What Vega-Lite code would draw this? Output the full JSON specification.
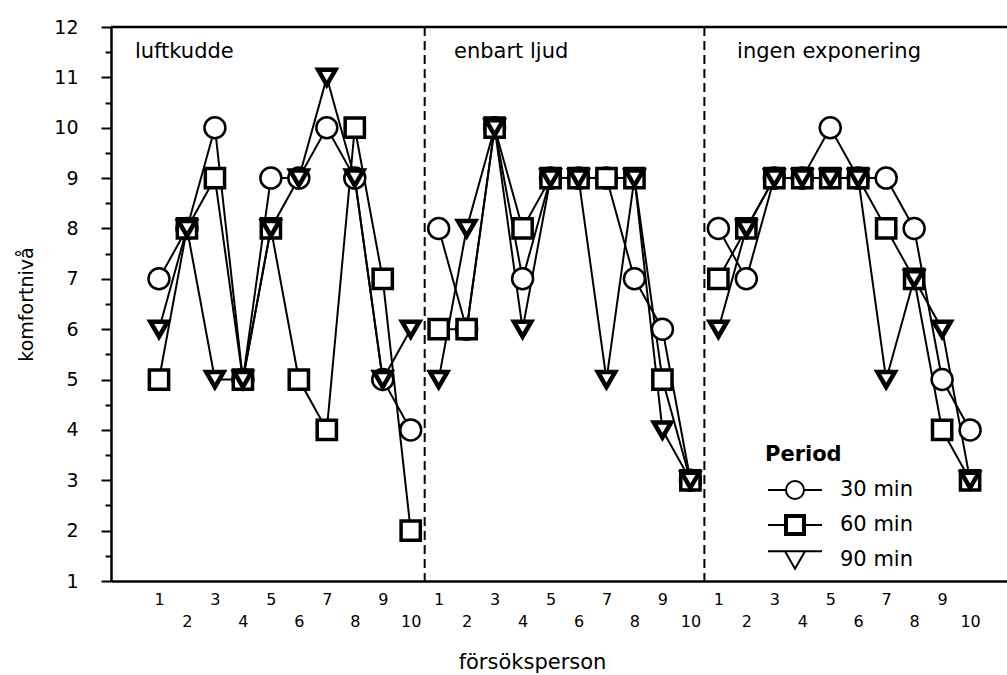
{
  "$schema": "https://vega.github.io/schema/vega-lite/v6.json",
  "autosize": "none",
  "padding": {"left": 111, "top": 27, "right": 0, "bottom": 94},
  "width": 896,
  "height": 554,
  "background": "white",
  "config": {
    "view": {"stroke": null},
    "font": "DejaVu Sans",
    "axis": {"labelFont": "DejaVu Sans", "titleFont": "DejaVu Sans", "labelColor": "black", "titleColor": "black", "domainColor": "black", "tickColor": "black", "grid": false, "titleFontWeight": "normal"}
  },
  "datasets": {
    "komfort": [
      {"pos": 1, "group": "luftkudde", "period": "30 min", "value": 7},
      {"pos": 2, "group": "luftkudde", "period": "30 min", "value": 8},
      {"pos": 3, "group": "luftkudde", "period": "30 min", "value": 10},
      {"pos": 4, "group": "luftkudde", "period": "30 min", "value": 5},
      {"pos": 5, "group": "luftkudde", "period": "30 min", "value": 9},
      {"pos": 6, "group": "luftkudde", "period": "30 min", "value": 9},
      {"pos": 7, "group": "luftkudde", "period": "30 min", "value": 10},
      {"pos": 8, "group": "luftkudde", "period": "30 min", "value": 9},
      {"pos": 9, "group": "luftkudde", "period": "30 min", "value": 5},
      {"pos": 10, "group": "luftkudde", "period": "30 min", "value": 4},
      {"pos": 11, "group": "enbart ljud", "period": "30 min", "value": 8},
      {"pos": 12, "group": "enbart ljud", "period": "30 min", "value": 6},
      {"pos": 13, "group": "enbart ljud", "period": "30 min", "value": 10},
      {"pos": 14, "group": "enbart ljud", "period": "30 min", "value": 7},
      {"pos": 15, "group": "enbart ljud", "period": "30 min", "value": 9},
      {"pos": 16, "group": "enbart ljud", "period": "30 min", "value": 9},
      {"pos": 17, "group": "enbart ljud", "period": "30 min", "value": 9},
      {"pos": 18, "group": "enbart ljud", "period": "30 min", "value": 7},
      {"pos": 19, "group": "enbart ljud", "period": "30 min", "value": 6},
      {"pos": 20, "group": "enbart ljud", "period": "30 min", "value": 3},
      {"pos": 21, "group": "ingen exponering", "period": "30 min", "value": 8},
      {"pos": 22, "group": "ingen exponering", "period": "30 min", "value": 7},
      {"pos": 23, "group": "ingen exponering", "period": "30 min", "value": 9},
      {"pos": 24, "group": "ingen exponering", "period": "30 min", "value": 9},
      {"pos": 25, "group": "ingen exponering", "period": "30 min", "value": 10},
      {"pos": 26, "group": "ingen exponering", "period": "30 min", "value": 9},
      {"pos": 27, "group": "ingen exponering", "period": "30 min", "value": 9},
      {"pos": 28, "group": "ingen exponering", "period": "30 min", "value": 8},
      {"pos": 29, "group": "ingen exponering", "period": "30 min", "value": 5},
      {"pos": 30, "group": "ingen exponering", "period": "30 min", "value": 4},
      {"pos": 1, "group": "luftkudde", "period": "60 min", "value": 5},
      {"pos": 2, "group": "luftkudde", "period": "60 min", "value": 8},
      {"pos": 3, "group": "luftkudde", "period": "60 min", "value": 9},
      {"pos": 4, "group": "luftkudde", "period": "60 min", "value": 5},
      {"pos": 5, "group": "luftkudde", "period": "60 min", "value": 8},
      {"pos": 6, "group": "luftkudde", "period": "60 min", "value": 5},
      {"pos": 7, "group": "luftkudde", "period": "60 min", "value": 4},
      {"pos": 8, "group": "luftkudde", "period": "60 min", "value": 10},
      {"pos": 9, "group": "luftkudde", "period": "60 min", "value": 7},
      {"pos": 10, "group": "luftkudde", "period": "60 min", "value": 2},
      {"pos": 11, "group": "enbart ljud", "period": "60 min", "value": 6},
      {"pos": 12, "group": "enbart ljud", "period": "60 min", "value": 6},
      {"pos": 13, "group": "enbart ljud", "period": "60 min", "value": 10},
      {"pos": 14, "group": "enbart ljud", "period": "60 min", "value": 8},
      {"pos": 15, "group": "enbart ljud", "period": "60 min", "value": 9},
      {"pos": 16, "group": "enbart ljud", "period": "60 min", "value": 9},
      {"pos": 17, "group": "enbart ljud", "period": "60 min", "value": 9},
      {"pos": 18, "group": "enbart ljud", "period": "60 min", "value": 9},
      {"pos": 19, "group": "enbart ljud", "period": "60 min", "value": 5},
      {"pos": 20, "group": "enbart ljud", "period": "60 min", "value": 3},
      {"pos": 21, "group": "ingen exponering", "period": "60 min", "value": 7},
      {"pos": 22, "group": "ingen exponering", "period": "60 min", "value": 8},
      {"pos": 23, "group": "ingen exponering", "period": "60 min", "value": 9},
      {"pos": 24, "group": "ingen exponering", "period": "60 min", "value": 9},
      {"pos": 25, "group": "ingen exponering", "period": "60 min", "value": 9},
      {"pos": 26, "group": "ingen exponering", "period": "60 min", "value": 9},
      {"pos": 27, "group": "ingen exponering", "period": "60 min", "value": 8},
      {"pos": 28, "group": "ingen exponering", "period": "60 min", "value": 7},
      {"pos": 29, "group": "ingen exponering", "period": "60 min", "value": 4},
      {"pos": 30, "group": "ingen exponering", "period": "60 min", "value": 3},
      {"pos": 1, "group": "luftkudde", "period": "90 min", "value": 6},
      {"pos": 2, "group": "luftkudde", "period": "90 min", "value": 8},
      {"pos": 3, "group": "luftkudde", "period": "90 min", "value": 5},
      {"pos": 4, "group": "luftkudde", "period": "90 min", "value": 5},
      {"pos": 5, "group": "luftkudde", "period": "90 min", "value": 8},
      {"pos": 6, "group": "luftkudde", "period": "90 min", "value": 9},
      {"pos": 7, "group": "luftkudde", "period": "90 min", "value": 11},
      {"pos": 8, "group": "luftkudde", "period": "90 min", "value": 9},
      {"pos": 9, "group": "luftkudde", "period": "90 min", "value": 5},
      {"pos": 10, "group": "luftkudde", "period": "90 min", "value": 6},
      {"pos": 11, "group": "enbart ljud", "period": "90 min", "value": 5},
      {"pos": 12, "group": "enbart ljud", "period": "90 min", "value": 8},
      {"pos": 13, "group": "enbart ljud", "period": "90 min", "value": 10},
      {"pos": 14, "group": "enbart ljud", "period": "90 min", "value": 6},
      {"pos": 15, "group": "enbart ljud", "period": "90 min", "value": 9},
      {"pos": 16, "group": "enbart ljud", "period": "90 min", "value": 9},
      {"pos": 17, "group": "enbart ljud", "period": "90 min", "value": 5},
      {"pos": 18, "group": "enbart ljud", "period": "90 min", "value": 9},
      {"pos": 19, "group": "enbart ljud", "period": "90 min", "value": 4},
      {"pos": 20, "group": "enbart ljud", "period": "90 min", "value": 3},
      {"pos": 21, "group": "ingen exponering", "period": "90 min", "value": 6},
      {"pos": 22, "group": "ingen exponering", "period": "90 min", "value": 8},
      {"pos": 23, "group": "ingen exponering", "period": "90 min", "value": 9},
      {"pos": 24, "group": "ingen exponering", "period": "90 min", "value": 9},
      {"pos": 25, "group": "ingen exponering", "period": "90 min", "value": 9},
      {"pos": 26, "group": "ingen exponering", "period": "90 min", "value": 9},
      {"pos": 27, "group": "ingen exponering", "period": "90 min", "value": 5},
      {"pos": 28, "group": "ingen exponering", "period": "90 min", "value": 7},
      {"pos": 29, "group": "ingen exponering", "period": "90 min", "value": 6},
      {"pos": 30, "group": "ingen exponering", "period": "90 min", "value": 3}
    ]
  },
  "resolve": {
    "scale": {"shape": "independent", "size": "independent", "strokeWidth": "independent"}
  },
  "layer": [
    {
      "data": {"values": [{"pos": -0.716, "value": 12}, {"pos": 31.32, "value": 12}]},
      "mark": {"type": "line", "color": "black", "strokeWidth": 2.5},
      "encoding": {
        "x": {
          "field": "pos", "type": "quantitative",
          "axis": {
            "title": "försöksperson",
            "values": [1,2,3,4,5,6,7,8,9,10,11,12,13,14,15,16,17,18,19,20,21,22,23,24,25,26,27,28,29,30],
            "labelExpr": "((datum.value - 1) % 10) % 2 == 0 ? '' + (((datum.value - 1) % 10) + 1) : ['', '' + (((datum.value - 1) % 10) + 1)]",
            "ticks": false, "domainWidth": 2.5, "labelFontSize": 16, "labelLineHeight": 22, "labelPadding": 10,
            "labelOverlap": false, "labelFlush": false, "labelBound": false,
            "titleFontSize": 21, "titlePadding": 22, "titleX": 421, "titleAlign": "center"
          }
        },
        "y": {
          "field": "value", "type": "quantitative",
          "axis": {
            "orient": "left", "title": "komfortnivå",
            "values": [1,1.5,2,2.5,3,3.5,4,4.5,5,5.5,6,6.5,7,7.5,8,8.5,9,9.5,10,10.5,11,11.5,12],
            "labelExpr": "datum.value % 1 == 0 ? format(datum.value, 'd') : ''",
            "tickSize": {"condition": {"test": "datum.value % 1 == 0", "value": 10}, "value": 6},
            "tickWidth": 2, "domainWidth": 2.5, "labelFontSize": 19, "labelPadding": 23,
            "labelOverlap": false, "labelFlush": false, "labelBound": false,
            "titleFontSize": 19, "titlePadding": 17
          }
        }
      }
    },
    {
      "data": {"values": [{"pos": 10.5}, {"pos": 20.5}]},
      "mark": {"type": "rule", "color": "black", "strokeWidth": 2, "strokeDash": [9, 5]},
      "encoding": {
        "x": {
          "field": "pos", "type": "quantitative",
          "axis": {
            "title": "försöksperson",
            "values": [1,2,3,4,5,6,7,8,9,10,11,12,13,14,15,16,17,18,19,20,21,22,23,24,25,26,27,28,29,30],
            "labelExpr": "((datum.value - 1) % 10) % 2 == 0 ? '' + (((datum.value - 1) % 10) + 1) : ['', '' + (((datum.value - 1) % 10) + 1)]",
            "ticks": false, "domainWidth": 2.5, "labelFontSize": 16, "labelLineHeight": 22, "labelPadding": 10,
            "labelOverlap": false, "labelFlush": false, "labelBound": false,
            "titleFontSize": 21, "titlePadding": 22, "titleX": 421, "titleAlign": "center"
          }
        }
      }
    },
    {
      "data": {"name": "komfort"},
      "mark": {"type": "line", "color": "black", "strokeWidth": 2},
      "encoding": {
        "x": {
          "field": "pos", "type": "quantitative",
          "scale": {"domain": [-0.716, 31.32], "nice": false, "zero": false},
          "axis": {
            "title": "försöksperson",
            "values": [1,2,3,4,5,6,7,8,9,10,11,12,13,14,15,16,17,18,19,20,21,22,23,24,25,26,27,28,29,30],
            "labelExpr": "((datum.value - 1) % 10) % 2 == 0 ? '' + (((datum.value - 1) % 10) + 1) : ['', '' + (((datum.value - 1) % 10) + 1)]",
            "ticks": false, "domainWidth": 2.5, "labelFontSize": 16, "labelLineHeight": 22, "labelPadding": 10,
            "labelOverlap": false, "labelFlush": false, "labelBound": false,
            "titleFontSize": 21, "titlePadding": 22, "titleX": 421, "titleAlign": "center"
          }
        },
        "y": {
          "field": "value", "type": "quantitative",
          "scale": {"domain": [1, 12], "nice": false, "zero": false},
          "axis": {
            "orient": "left", "title": "komfortnivå",
            "values": [1,1.5,2,2.5,3,3.5,4,4.5,5,5.5,6,6.5,7,7.5,8,8.5,9,9.5,10,10.5,11,11.5,12],
            "labelExpr": "datum.value % 1 == 0 ? format(datum.value, 'd') : ''",
            "tickSize": {"condition": {"test": "datum.value % 1 == 0", "value": 10}, "value": 6},
            "tickWidth": 2, "domainWidth": 2.5, "labelFontSize": 19, "labelPadding": 23,
            "labelOverlap": false, "labelFlush": false, "labelBound": false,
            "titleFontSize": 19, "titlePadding": 17
          }
        },
        "detail": [{"field": "period"}, {"field": "group"}]
      }
    },
    {
      "data": {"name": "komfort"},
      "mark": {"type": "point", "filled": true, "fill": "white", "stroke": "black", "opacity": 1},
      "encoding": {
        "x": {
          "field": "pos", "type": "quantitative",
          "axis": {
            "title": "försöksperson",
            "values": [1,2,3,4,5,6,7,8,9,10,11,12,13,14,15,16,17,18,19,20,21,22,23,24,25,26,27,28,29,30],
            "labelExpr": "((datum.value - 1) % 10) % 2 == 0 ? '' + (((datum.value - 1) % 10) + 1) : ['', '' + (((datum.value - 1) % 10) + 1)]",
            "ticks": false, "domainWidth": 2.5, "labelFontSize": 16, "labelLineHeight": 22, "labelPadding": 10,
            "labelOverlap": false, "labelFlush": false, "labelBound": false,
            "titleFontSize": 21, "titlePadding": 22, "titleX": 421, "titleAlign": "center"
          }
        },
        "y": {
          "field": "value", "type": "quantitative",
          "axis": {
            "orient": "left", "title": "komfortnivå",
            "values": [1,1.5,2,2.5,3,3.5,4,4.5,5,5.5,6,6.5,7,7.5,8,8.5,9,9.5,10,10.5,11,11.5,12],
            "labelExpr": "datum.value % 1 == 0 ? format(datum.value, 'd') : ''",
            "tickSize": {"condition": {"test": "datum.value % 1 == 0", "value": 10}, "value": 6},
            "tickWidth": 2, "domainWidth": 2.5, "labelFontSize": 19, "labelPadding": 23,
            "labelOverlap": false, "labelFlush": false, "labelBound": false,
            "titleFontSize": 19, "titlePadding": 17
          }
        },
        "shape": {
          "field": "period", "type": "nominal", "legend": null,
          "scale": {"domain": ["30 min", "60 min", "90 min"], "range": ["circle", "square", "triangle-down"]}
        },
        "size": {
          "field": "period", "type": "ordinal", "legend": null,
          "scale": {"domain": ["30 min", "60 min", "90 min"], "range": [440, 300, 560]}
        },
        "strokeWidth": {
          "field": "period", "type": "ordinal", "legend": null,
          "scale": {"domain": ["30 min", "60 min", "90 min"], "range": [2.5, 4.5, 2.5]}
        }
      }
    },
    {
      "data": {"name": "komfort"},
      "transform": [{"filter": "datum.pos < 0"}],
      "mark": {"type": "point", "filled": false, "color": "black", "strokeWidth": 2, "opacity": 1},
      "encoding": {
        "shape": {
          "field": "period", "type": "nominal",
          "scale": {
            "domain": ["30 min", "60 min", "90 min"],
            "range": [
              "M-2.7,0H-0.9M0.9,0H2.7M0.9,0A0.9,0.9,0,1,1,-0.9,0A0.9,0.9,0,1,1,0.9,0Z",
              "M-2.7,0H-1M1,0H2.7M-1,-1H1V1H-1ZM-0.8,-0.8H0.8V0.8H-0.8Z",
              "M-2.7,-0.866H2.7M-1,-0.866L0,0.866L1,-0.866Z"
            ]
          },
          "legend": {
            "title": "Period",
            "orient": "none",
            "legendX": 654,
            "legendY": 417,
            "padding": 0,
            "titleFont": "DejaVu Sans",
            "titleFontSize": 21,
            "titleFontWeight": "bold",
            "titleColor": "black",
            "titlePadding": 14,
            "labelFont": "DejaVu Sans",
            "labelFontSize": 21,
            "labelColor": "black",
            "labelOffset": 34,
            "symbolOffset": 19,
            "symbolSize": 400,
            "symbolStrokeWidth": 2,
            "symbolStrokeColor": "black",
            "symbolFillColor": "white",
            "symbolOpacity": 1,
            "rowPadding": 8,
            "encode": {
              "symbols": {
                "update": {
                  "stroke": {"value": "black"},
                  "fill": {"value": "white"},
                  "strokeWidth": {"value": 2},
                  "opacity": {"value": 1}
                }
              }
            }
          }
        }
      }
    },
    {
      "data": {"values": [
        {"pos": 0.14, "value": 11.5, "label": "luftkudde"},
        {"pos": 11.55, "value": 11.5, "label": "enbart ljud"},
        {"pos": 21.67, "value": 11.5, "label": "ingen exponering"}
      ]},
      "mark": {"type": "text", "align": "left", "baseline": "middle", "fontSize": 21, "font": "DejaVu Sans", "color": "black"},
      "encoding": {
        "x": {
          "field": "pos", "type": "quantitative",
          "axis": {
            "title": "försöksperson",
            "values": [1,2,3,4,5,6,7,8,9,10,11,12,13,14,15,16,17,18,19,20,21,22,23,24,25,26,27,28,29,30],
            "labelExpr": "((datum.value - 1) % 10) % 2 == 0 ? '' + (((datum.value - 1) % 10) + 1) : ['', '' + (((datum.value - 1) % 10) + 1)]",
            "ticks": false, "domainWidth": 2.5, "labelFontSize": 16, "labelLineHeight": 22, "labelPadding": 10,
            "labelOverlap": false, "labelFlush": false, "labelBound": false,
            "titleFontSize": 21, "titlePadding": 22, "titleX": 421, "titleAlign": "center"
          }
        },
        "y": {
          "field": "value", "type": "quantitative",
          "axis": {
            "orient": "left", "title": "komfortnivå",
            "values": [1,1.5,2,2.5,3,3.5,4,4.5,5,5.5,6,6.5,7,7.5,8,8.5,9,9.5,10,10.5,11,11.5,12],
            "labelExpr": "datum.value % 1 == 0 ? format(datum.value, 'd') : ''",
            "tickSize": {"condition": {"test": "datum.value % 1 == 0", "value": 10}, "value": 6},
            "tickWidth": 2, "domainWidth": 2.5, "labelFontSize": 19, "labelPadding": 23,
            "labelOverlap": false, "labelFlush": false, "labelBound": false,
            "titleFontSize": 19, "titlePadding": 17
          }
        },
        "text": {"field": "label"}
      }
    }
  ]
}
